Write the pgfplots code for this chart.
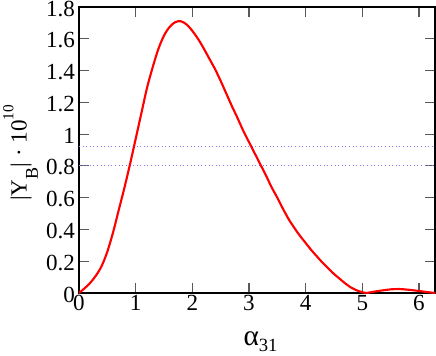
\documentclass[border=0pt]{standalone}
\usepackage{pgfplots}
\pgfplotsset{compat=1.18}
\usepackage{fontspec}
\setmainfont{Liberation Serif}
\begin{document}
\begin{tikzpicture}
\begin{axis}[
  scale only axis,
  width=267pt, height=214.5pt,
  xmin=0, xmax=6.2832, ymin=0, ymax=1.8,
  xtick={0,1,2,3,4,5,6},
  ytick={0,0.2,0.4,0.6,0.8,1,1.2,1.4,1.6,1.8},
  yticklabels={0,0.2,0.4,0.6,0.8,1,1.2,1.4,1.6,1.8},
  xticklabels={0,1,2,3,4,5,6},
  tick align=inside,
  major tick length=7.5pt,
  tick style={draw=black!65, line width=0.9pt},
  axis line style={black, line width=0.8pt},
  tick label style={font=\fontsize{17.3}{20}\selectfont},
  label style={font=\fontsize{17.3}{20}\selectfont},
  /pgf/number format/assume math mode=true,
  yticklabel style={xshift=0.5pt, yshift=-1.2pt},
  xticklabel style={yshift=2pt},
  xlabel={{\fontsize{22}{24}\selectfont α}\raisebox{-4.5pt}{\fontsize{14}{16}\selectfont 31}},
  ylabel={|Y\raisebox{-8.5pt}{\fontsize{13.5}{15}\selectfont B}| · 10\raisebox{10pt}{\fontsize{11.5}{13}\selectfont 10}},
  xlabel style={at={(axis description cs:0.51,-0.182)}, anchor=base},
  ylabel style={at={(axis description cs:-0.147,0.49)}, anchor=base},
  clip=true,
]
\addplot[draw=blue!50, dotted, line width=0.7pt] coordinates {(0,0.92) (6.2832,0.92)};
\addplot[draw=blue!50, dotted, line width=0.7pt] coordinates {(0,0.80) (6.2832,0.80)};
\addplot[red, line width=1.6pt, smooth, tension=0.5, line join=round] coordinates {
(0,0) (0.1,0.03) (0.2,0.065) (0.3,0.11) (0.4,0.17) (0.5,0.26) (0.6,0.38) (0.7,0.52)
(0.8,0.66) (0.9,0.81) (1.0,0.97) (1.1,1.13) (1.2,1.29) (1.3,1.42) (1.4,1.535)
(1.5,1.62) (1.6,1.675) (1.7,1.705) (1.8,1.71) (1.9,1.69) (2.0,1.65) (2.1,1.60)
(2.2,1.54) (2.3,1.475) (2.4,1.41) (2.5,1.335) (2.6,1.255) (2.7,1.175) (2.8,1.10)
(2.9,1.02) (3.0,0.95) (3.1,0.88) (3.2,0.81) (3.3,0.74) (3.4,0.665) (3.5,0.60)
(3.6,0.53) (3.7,0.465) (3.8,0.41) (3.9,0.36) (4.0,0.315) (4.1,0.27) (4.2,0.23)
(4.3,0.19) (4.4,0.155) (4.5,0.12) (4.6,0.09) (4.7,0.06) (4.8,0.035) (4.9,0.017)
(5.0,0.005) (5.08,0)
};
\addplot[red, line width=1.6pt, smooth, tension=0.5, line join=round] coordinates {
(5.08,0) (5.2,0.008) (5.35,0.016) (5.5,0.023) (5.65,0.025) (5.8,0.021)
(5.95,0.015) (6.1,0.008) (6.2832,0)
};
\end{axis}
\pgfresetboundingbox
\path[use as bounding box] ([xshift=-59.25pt,yshift=-46.5pt]current axis.south west) rectangle ([xshift=0.75pt,yshift=5.25pt]current axis.north east);
\end{tikzpicture}
\end{document}
